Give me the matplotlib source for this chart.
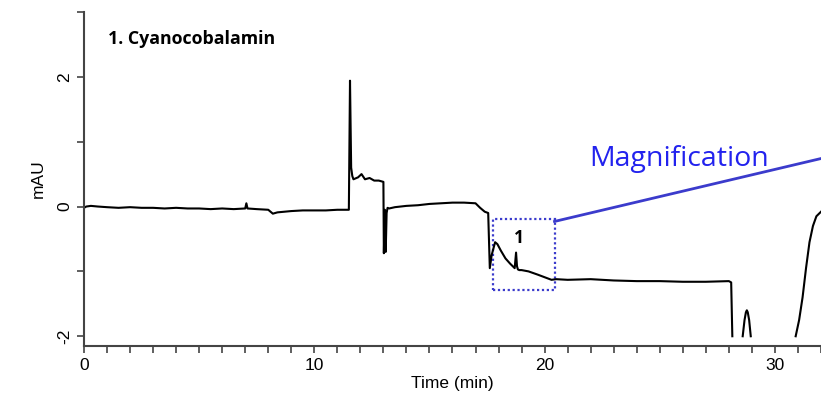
import numpy as np
import matplotlib
matplotlib.use("Agg")
import matplotlib.pyplot as plt
from matplotlib.patches import Rectangle
from matplotlib.ticker import MultipleLocator

plt.rcParams["axes.unicode_minus"] = False

# main chromatogram trace (time in min, signal in mAU)
main_t = [0.0, 0.1, 0.3, 0.6, 1.0, 1.5, 2.0, 2.5, 3.0, 3.5, 4.0, 4.5, 5.0, 5.5,
          6.0, 6.5, 7.0, 7.05, 7.1, 7.5, 8.0, 8.2, 8.4, 8.7, 9.0, 9.5, 10.0, 10.5,
          11.0, 11.5, 11.55, 11.6, 11.65, 11.7, 11.9, 12.05, 12.2, 12.4, 12.6, 12.8,
          13.0, 13.02, 13.06, 13.1, 13.14, 13.18, 13.25, 13.5, 14.0, 14.5, 15.0,
          15.5, 16.0, 16.5, 17.0, 17.2, 17.4, 17.55, 17.62, 17.7, 17.85, 17.95,
          18.1, 18.3, 18.5, 18.7, 18.76, 18.8, 18.84, 18.9, 19.0, 19.3, 19.7,
          20.0, 20.3, 20.5, 21.0, 22.0, 23.0, 24.0, 25.0, 26.0, 27.0, 28.0,
          28.1, 28.15]
main_y = [-0.02, 0.0, 0.01, 0.0, -0.01, -0.02, -0.01, -0.02, -0.02, -0.03, -0.02,
          -0.03, -0.03, -0.04, -0.03, -0.04, -0.03, 0.05, -0.03, -0.04, -0.05,
          -0.11, -0.09, -0.08, -0.07, -0.06, -0.06, -0.06, -0.05, -0.05, 1.94,
          0.6, 0.47, 0.42, 0.45, 0.5, 0.42, 0.44, 0.40, 0.40, 0.38, -0.72, -0.05,
          -0.70, -0.1, -0.02, -0.03, -0.01, 0.01, 0.02, 0.04, 0.05, 0.06, 0.06,
          0.05, -0.02, -0.08, -0.10, -0.95, -0.75, -0.55, -0.58, -0.68, -0.80,
          -0.88, -0.95, -0.71, -0.92, -0.97, -0.98, -0.98, -1.0, -1.05, -1.09,
          -1.13, -1.12, -1.13, -1.12, -1.14, -1.15, -1.15, -1.16, -1.16, -1.15,
          -1.17, -2.0]

# small peak poking up from the bottom
bump_t = [28.6, 28.68, 28.74, 28.78, 28.82, 28.88, 28.95]
bump_y = [-2.0, -1.75, -1.63, -1.6, -1.63, -1.75, -2.0]

# large rising signal at the end of the run
tail_t = [30.9, 31.05, 31.2, 31.35, 31.5, 31.65, 31.8, 32.0]
tail_y = [-2.0, -1.75, -1.4, -0.95, -0.55, -0.3, -0.15, -0.08]

# magnified region and connector line
box_t = [17.74, 20.43]
box_y = [-1.28, -0.2]
link_t = [20.43, 32.0]
link_y = [-0.23, 0.74]

fig = plt.figure(figsize=(8.21, 3.98), dpi=100)
ax = fig.add_axes([0.1023, 0.1307, 0.8977, 0.8393])

for t, y in [(main_t, main_y), (bump_t, bump_y), (tail_t, tail_y)]:
    ax.plot(t, y, color="black", lw=1.5, solid_joinstyle="round")

blue = "#3b3bcc"
ax.add_patch(Rectangle((box_t[0], box_y[0]), box_t[1] - box_t[0], box_y[1] - box_y[0],
                       fill=False, edgecolor=blue, lw=1.6, linestyle=(0, (1, 1.2))))
ax.plot(link_t, link_y, color=blue, lw=2, clip_on=False)

ax.text(21.95, 0.74, "Magnification", color="#2222ee", fontsize=20.5,
        family="Open Sans", va="center", ha="left")
ax.text(18.9, -0.49, "1", fontsize=12.5, fontweight="bold", family="Open Sans",
        ha="center", va="center")
ax.text(1.04, 2.58, "1. Cyanocobalamin", fontsize=12.8, fontweight="bold",
        family="Open Sans", ha="left", va="center")

ax.set_xlim(0, 32)
ax.set_ylim(-2.15, 3.0)
ax.xaxis.set_major_locator(MultipleLocator(10))
ax.xaxis.set_minor_locator(MultipleLocator(1))
ax.yaxis.set_major_locator(MultipleLocator(2))
ax.yaxis.set_minor_locator(MultipleLocator(1))
ax.tick_params(which="both", direction="out", length=5, width=1.2, color="#444444",
               labelsize=12.5)
ax.tick_params(axis="y", which="both", labelrotation=90)
for lab in ax.get_yticklabels():
    lab.set_va("center")
for s in ["top", "right"]:
    ax.spines[s].set_visible(False)
for s in ["left", "bottom"]:
    ax.spines[s].set_color("#444444")
    ax.spines[s].set_linewidth(1.5)

for lab in ax.get_xticklabels() + ax.get_yticklabels():
    lab.set_family("Liberation Sans")
ax.set_xlabel("Time (min)", fontsize=12.5, family="Liberation Sans", labelpad=2)
ax.set_ylabel("mAU", fontsize=12.5, family="Liberation Sans", labelpad=8)

fig.savefig("out.png", dpi=100)
